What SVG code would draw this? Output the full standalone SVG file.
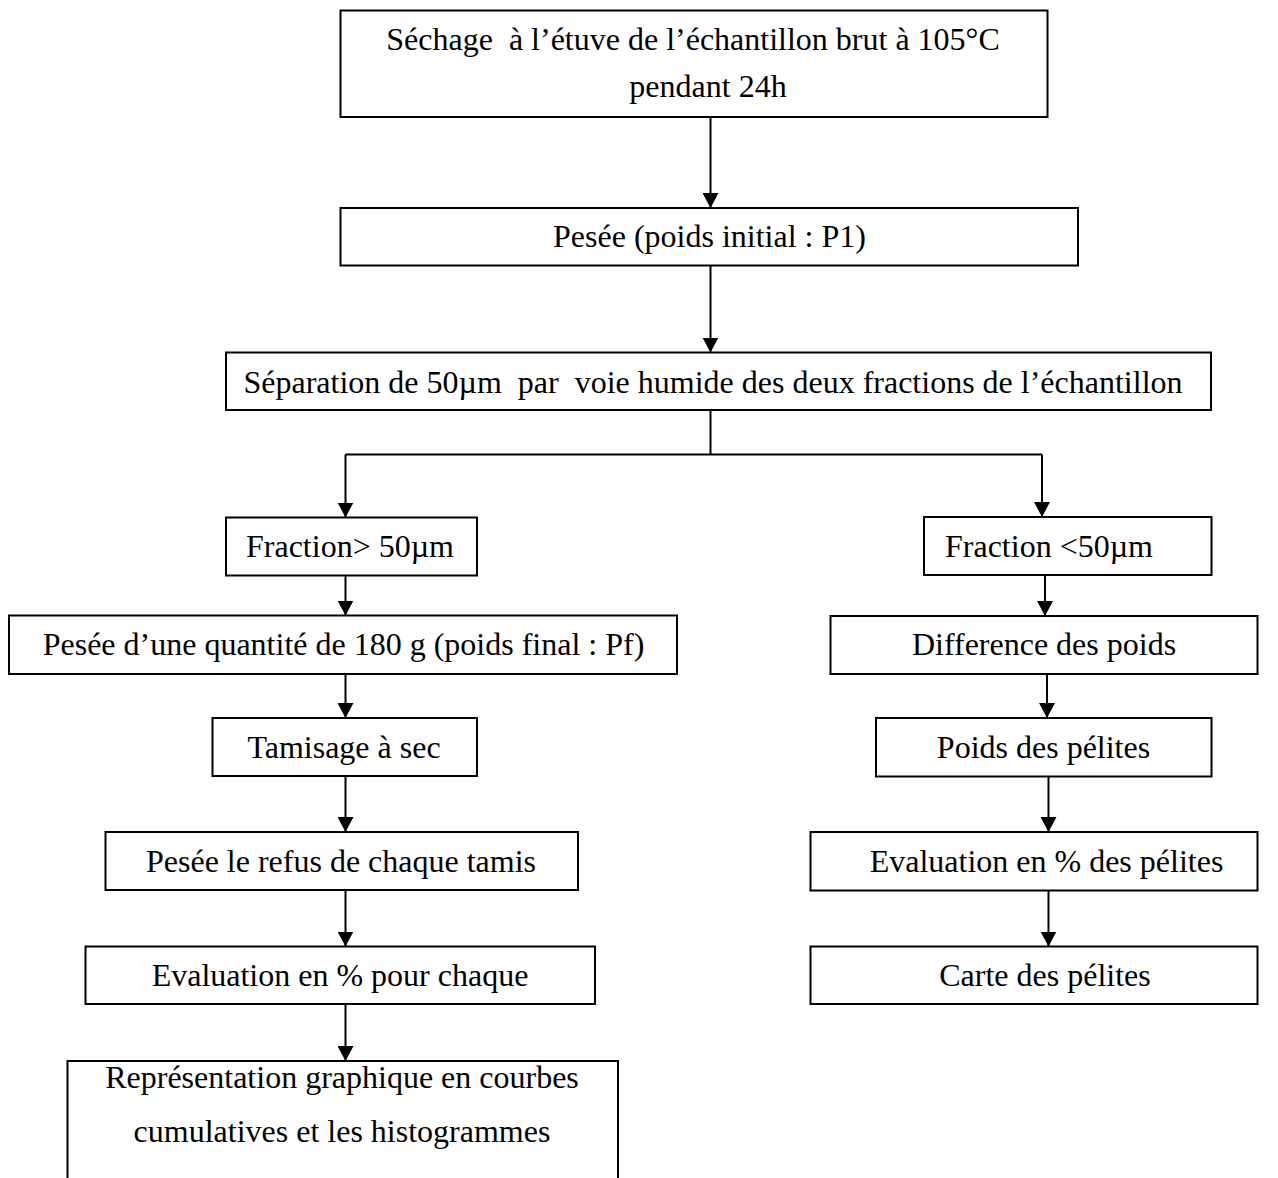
<svg xmlns="http://www.w3.org/2000/svg" width="1278" height="1178" viewBox="0 0 1278 1178">
<style>
  .box { fill: #ffffff; stroke: #000000; stroke-width: 2; }
  .lbl { font-family: "Liberation Serif", "Times New Roman", serif; font-size: 32px; fill: #000000; text-anchor: middle; white-space: pre; }
  .con { fill: none; stroke: #000000; stroke-width: 2; }
</style>
<defs>
  <marker id="arr" markerUnits="userSpaceOnUse" viewBox="0 0 15 16" refX="15" refY="8" markerWidth="15" markerHeight="16" orient="auto">
    <path d="M0,0 L15,8 L0,16 z" fill="#000000"/>
  </marker>
</defs>
<rect width="1278" height="1178" fill="#ffffff"/>

<g id="connectors">
  <line class="con" x1="710.5" y1="117" x2="710.5" y2="208" marker-end="url(#arr)"/>
  <line class="con" x1="710.5" y1="265.5" x2="710.5" y2="352.5" marker-end="url(#arr)"/>
  <polyline class="con" points="710.5,410 710.5,454.5"/>
  <polyline class="con" points="345.5,454.5 1042,454.5"/>
  <line class="con" x1="345.5" y1="454.5" x2="345.5" y2="517.5" marker-end="url(#arr)"/>
  <line class="con" x1="1042" y1="454.5" x2="1042" y2="517" marker-end="url(#arr)"/>
  <line class="con" x1="345.5" y1="575.5" x2="345.5" y2="615.5" marker-end="url(#arr)"/>
  <line class="con" x1="345.5" y1="674" x2="345.5" y2="718" marker-end="url(#arr)"/>
  <line class="con" x1="345.5" y1="776" x2="345.5" y2="832" marker-end="url(#arr)"/>
  <line class="con" x1="345.5" y1="890" x2="345.5" y2="946.5" marker-end="url(#arr)"/>
  <line class="con" x1="345.5" y1="1004" x2="345.5" y2="1061" marker-end="url(#arr)"/>
  <line class="con" x1="1045" y1="575" x2="1045" y2="616" marker-end="url(#arr)"/>
  <line class="con" x1="1047" y1="674" x2="1047" y2="718" marker-end="url(#arr)"/>
  <line class="con" x1="1048.5" y1="776.5" x2="1048.5" y2="832" marker-end="url(#arr)"/>
  <line class="con" x1="1048.5" y1="890.5" x2="1048.5" y2="946.5" marker-end="url(#arr)"/>
</g>

<g id="n1">
  <rect class="box" x="340.5" y="10.5" width="707" height="106.5"/>
  <text class="lbl" x="693" y="50">Séchage  à l’étuve de l’échantillon brut à 105°C</text>
  <text class="lbl" x="708" y="97">pendant 24h</text>
</g>
<g id="n2">
  <rect class="box" x="340.5" y="208" width="737.5" height="57.5"/>
  <text class="lbl" x="709.5" y="247">Pesée (poids initial : P1)</text>
</g>
<g id="n3">
  <rect class="box" x="226" y="352.5" width="985" height="57.5"/>
  <text class="lbl" x="713" y="393">Séparation de 50µm  par  voie humide des deux fractions de l’échantillon</text>
</g>
<g id="n4">
  <rect class="box" x="226" y="517.5" width="251" height="58"/>
  <text class="lbl" x="350" y="557">Fraction&gt; 50µm</text>
</g>
<g id="n5">
  <rect class="box" x="924" y="517" width="287.5" height="58"/>
  <text class="lbl" x="1049" y="557">Fraction &lt;50µm</text>
</g>
<g id="n6">
  <rect class="box" x="9" y="615.5" width="668" height="58.5"/>
  <text class="lbl" x="343.5" y="655">Pesée d’une quantité de 180 g (poids final : Pf)</text>
</g>
<g id="n7">
  <rect class="box" x="830.5" y="616" width="427" height="58"/>
  <text class="lbl" x="1044" y="655">Difference des poids</text>
</g>
<g id="n8">
  <rect class="box" x="212.5" y="718" width="264.5" height="58"/>
  <text class="lbl" x="344" y="758">Tamisage à sec</text>
</g>
<g id="n9">
  <rect class="box" x="876" y="718" width="335.5" height="58.5"/>
  <text class="lbl" x="1043.5" y="758">Poids des pélites</text>
</g>
<g id="n10">
  <rect class="box" x="105.5" y="832" width="472.5" height="58"/>
  <text class="lbl" x="341" y="872">Pesée le refus de chaque tamis</text>
</g>
<g id="n11">
  <rect class="box" x="810.5" y="832" width="447" height="58.5"/>
  <text class="lbl" x="1046.5" y="872">Evaluation en % des pélites</text>
</g>
<g id="n12">
  <rect class="box" x="85.5" y="946.5" width="509.5" height="57.5"/>
  <text class="lbl" x="340" y="986">Evaluation en % pour chaque</text>
</g>
<g id="n13">
  <rect class="box" x="810.5" y="946.5" width="447" height="57.5"/>
  <text class="lbl" x="1045" y="986">Carte des pélites</text>
</g>
<g id="n14">
  <rect class="box" x="67.5" y="1061" width="550.5" height="160"/>
  <text class="lbl" x="342" y="1088">Représentation graphique en courbes</text>
  <text class="lbl" x="342" y="1142">cumulatives et les histogrammes</text>
</g>
</svg>
